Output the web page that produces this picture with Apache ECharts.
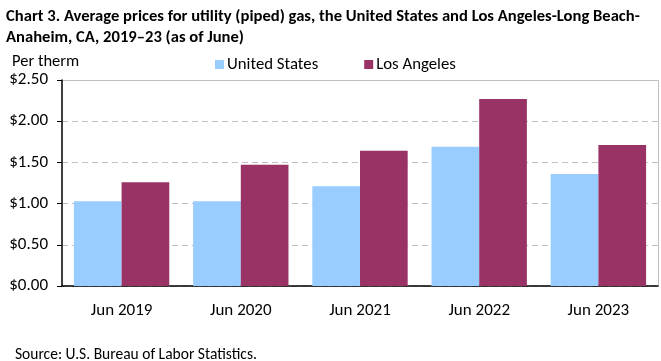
<!DOCTYPE html>
<html><head><meta charset="utf-8">
<script src="https://cdn.jsdelivr.net/npm/echarts@6/dist/echarts.min.js"></script>
<style>html,body{margin:0;padding:0;background:#fff}#c{width:661px;height:361px}</style>
</head><body><div id="c"></div>
<script>
const categories = ['Jun 2019','Jun 2020','Jun 2021','Jun 2022','Jun 2023'];
const usValues = [1.03, 1.03, 1.21, 1.69, 1.36];
const laValues = [1.26, 1.47, 1.64, 2.27, 1.71];
const yTicks = [0, 0.5, 1.0, 1.5, 2.0, 2.5];
const FONT = "Carlito, 'Liberation Sans Narrow', 'Open Sans', sans-serif";
const chart = echarts.init(document.getElementById('c'), null, {renderer:'canvas'});
chart.setOption({
  animation:false,
  textStyle:{fontFamily:FONT},
  title:[
    {text:'Chart 3. Average prices for utility (piped) gas, the United States and Los Angeles-Long Beach-\nAnaheim, CA, 2019–23 (as of June)',
     left:1, top:1, textStyle:{fontFamily:FONT, fontSize:16.6, fontWeight:'bold', color:'#000', lineHeight:21}},
    {text:'Per therm', left:7, top:48, textStyle:{fontFamily:FONT, fontSize:16.5, fontWeight:'normal', color:'#000'}},
    {text:'Source: U.S. Bureau of Labor Statistics.', left:10, top:342, textStyle:{fontFamily:FONT, fontSize:15.5, fontWeight:'normal', color:'#000'}}
  ],
  legend:{top:51, left:210, itemWidth:9, itemHeight:9, itemGap:46, icon:'rect',
    textStyle:{fontFamily:FONT, fontSize:16.8, color:'#000', padding:[0,0,0,-2]}, data:['United States','Los Angeles']},
  grid:{left:62, right:3, top:80, bottom:75},
  xAxis:{type:'category', data:categories,
    axisLine:{lineStyle:{color:'#000', width:1.5}}, axisTick:{show:false},
    axisLabel:{fontFamily:FONT, fontSize:17, color:'#000', margin:16}},
  yAxis:{type:'value', min:0, max:2.5, interval:0.5,
    axisLine:{show:true, lineStyle:{color:'#000', width:1.5}},
    axisTick:{show:true, length:5, inside:false, lineStyle:{color:'#000'}},
    axisLabel:{fontFamily:FONT, fontSize:17, color:'#000', margin:14,
      formatter:v=>'$'+v.toFixed(2)},
    splitLine:{lineStyle:{color:'#bfbfbf', type:[6,4]}}},
  series:[
    {name:'United States', type:'bar', data:usValues, itemStyle:{color:'#99ccff'}, barGap:'0%', barCategoryGap:'20%'},
    {name:'Los Angeles', type:'bar', data:laValues, itemStyle:{color:'#993366'}}
  ],
  graphic:[
    {type:'line', shape:{x1:62, y1:80.5, x2:658, y2:80.5}, style:{stroke:'#bfbfbf', lineWidth:1}},
    {type:'line', shape:{x1:658.5, y1:80, x2:658.5, y2:286}, style:{stroke:'#bfbfbf', lineWidth:1}}
  ]
});
</script></body></html>
